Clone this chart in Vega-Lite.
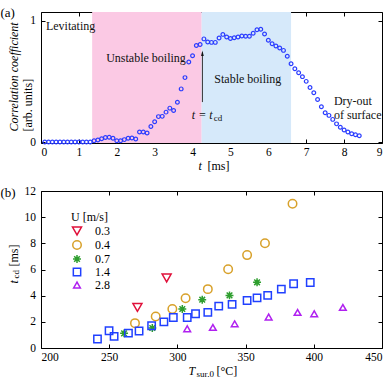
{
  "$schema": "https://vega.github.io/schema/vega-lite/v6.json",
  "padding": {"left": 0, "top": 6, "right": 5, "bottom": 0},
  "spacing": 13,
  "resolve": {"scale": {"color": "independent", "shape": "independent", "size": "independent"}},
  "config": {
    "font": "Liberation Serif",
    "view": {"stroke": null},
    "axis": {"grid": false, "domainColor": "#000", "tickColor": "#000", "labelColor": "#000", "titleColor": "#000", "labelFont": "Liberation Serif", "titleFont": "Liberation Serif", "labelFontSize": 11.5, "titleFontSize": 12, "titleFontWeight": "normal", "tickSize": -4, "zindex": 1, "domainWidth": 1, "tickWidth": 1},
    "axisX": {"labelPadding": 7, "titlePadding": 1},
    "axisY": {"labelPadding": 9.5, "titlePadding": 5},
    "legend": {"titleFont": "Liberation Serif", "labelFont": "Liberation Serif", "titleFontWeight": "normal", "titleFontSize": 12, "labelFontSize": 12, "labelColor": "#000", "titleColor": "#000"}
  },
  "datasets": {
    "regions": [
      {"start": 1.35, "end": 4.24, "regime": "unstable"},
      {"start": 4.24, "end": 6.6, "regime": "stable"}
    ],
    "corr": [
      {"t": 0.1, "c": 0.0}, {"t": 0.2, "c": 0.0}, {"t": 0.3, "c": 0.0}, {"t": 0.4, "c": 0.0}, {"t": 0.5, "c": 0.0},
      {"t": 0.6, "c": 0.0}, {"t": 0.7, "c": 0.0}, {"t": 0.8, "c": 0.0}, {"t": 0.9, "c": 0.0}, {"t": 1.0, "c": 0.0},
      {"t": 1.1, "c": 0.0}, {"t": 1.2, "c": 0.0}, {"t": 1.3, "c": 0.0}, {"t": 1.4, "c": 0.01}, {"t": 1.5, "c": 0.017},
      {"t": 1.6, "c": 0.027}, {"t": 1.7, "c": 0.038}, {"t": 1.8, "c": 0.039}, {"t": 1.9, "c": 0.032}, {"t": 2.0, "c": 0.01},
      {"t": 2.1, "c": 0.01}, {"t": 2.2, "c": 0.02}, {"t": 2.3, "c": 0.032}, {"t": 2.4, "c": 0.033}, {"t": 2.5, "c": 0.025},
      {"t": 2.6, "c": 0.083}, {"t": 2.7, "c": 0.083}, {"t": 2.8, "c": 0.074}, {"t": 2.9, "c": 0.129}, {"t": 3.0, "c": 0.167},
      {"t": 3.1, "c": 0.21}, {"t": 3.2, "c": 0.212}, {"t": 3.3, "c": 0.247}, {"t": 3.4, "c": 0.28}, {"t": 3.5, "c": 0.26},
      {"t": 3.6, "c": 0.328}, {"t": 3.7, "c": 0.439}, {"t": 3.8, "c": 0.532}, {"t": 3.9, "c": 0.661}, {"t": 4.0, "c": 0.713},
      {"t": 4.1, "c": 0.797}, {"t": 4.2, "c": 0.805}, {"t": 4.3, "c": 0.852}, {"t": 4.4, "c": 0.826}, {"t": 4.5, "c": 0.823},
      {"t": 4.6, "c": 0.823}, {"t": 4.7, "c": 0.86}, {"t": 4.8, "c": 0.889}, {"t": 4.9, "c": 0.868}, {"t": 5.0, "c": 0.855},
      {"t": 5.1, "c": 0.862}, {"t": 5.2, "c": 0.868}, {"t": 5.3, "c": 0.876}, {"t": 5.4, "c": 0.873}, {"t": 5.5, "c": 0.873},
      {"t": 5.6, "c": 0.898}, {"t": 5.7, "c": 0.928}, {"t": 5.8, "c": 0.931}, {"t": 5.9, "c": 0.892}, {"t": 6.0, "c": 0.84},
      {"t": 6.1, "c": 0.812}, {"t": 6.2, "c": 0.793}, {"t": 6.3, "c": 0.777}, {"t": 6.4, "c": 0.757}, {"t": 6.5, "c": 0.708},
      {"t": 6.6, "c": 0.647}, {"t": 6.7, "c": 0.606}, {"t": 6.8, "c": 0.573}, {"t": 6.9, "c": 0.54}, {"t": 7.0, "c": 0.501},
      {"t": 7.1, "c": 0.451}, {"t": 7.2, "c": 0.407}, {"t": 7.3, "c": 0.352}, {"t": 7.4, "c": 0.292}, {"t": 7.5, "c": 0.242},
      {"t": 7.6, "c": 0.22}, {"t": 7.7, "c": 0.187}, {"t": 7.8, "c": 0.15}, {"t": 7.9, "c": 0.122}, {"t": 8.0, "c": 0.099},
      {"t": 8.1, "c": 0.083}, {"t": 8.2, "c": 0.069}, {"t": 8.3, "c": 0.06}, {"t": 8.4, "c": 0.052}
    ],
    "labelsA": [
      {"t": 0.13, "c": 0.955, "text": "Levitating"},
      {"t": 1.72, "c": 0.694, "text": "Unstable boiling"},
      {"t": 4.575, "c": 0.523, "text": "Stable boiling"},
      {"t": 7.73, "c": 0.341, "text": "Dry-out"},
      {"t": 7.73, "c": 0.226, "text": "of surface"}
    ],
    "tcdLabel": [
      {"t": 3.98, "c": 0.226, "main": "t = t", "sub": "cd"}
    ],
    "arrow": [
      {"t": 4.26, "c1": 0.33, "c2": 0.74, "tip": 0.734}
    ],
    "tcd": [
      {"U": "0.3", "T": 270.7, "tcd": 3.1}, {"U": "0.3", "T": 292.1, "tcd": 5.35},
      {"U": "0.4", "T": 268.9, "tcd": 1.9}, {"U": "0.4", "T": 284.1, "tcd": 2.41}, {"U": "0.4", "T": 296.3, "tcd": 2.98},
      {"U": "0.4", "T": 306.0, "tcd": 3.8}, {"U": "0.4", "T": 322.3, "tcd": 4.5}, {"U": "0.4", "T": 337.2, "tcd": 6.02},
      {"U": "0.4", "T": 351.1, "tcd": 7.1}, {"U": "0.4", "T": 364.2, "tcd": 8.01}, {"U": "0.4", "T": 384.4, "tcd": 11.03},
      {"U": "0.7", "T": 260.9, "tcd": 1.12}, {"U": "0.7", "T": 281.6, "tcd": 1.53}, {"U": "0.7", "T": 303.6, "tcd": 2.98},
      {"U": "0.7", "T": 318.2, "tcd": 3.69}, {"U": "0.7", "T": 338.2, "tcd": 4.02}, {"U": "0.7", "T": 358.4, "tcd": 5.02},
      {"U": "1.4", "T": 241.4, "tcd": 0.69}, {"U": "1.4", "T": 249.9, "tcd": 1.32}, {"U": "1.4", "T": 253.6, "tcd": 0.89},
      {"U": "1.4", "T": 264.1, "tcd": 1.14}, {"U": "1.4", "T": 271.9, "tcd": 1.3}, {"U": "1.4", "T": 281.1, "tcd": 1.7},
      {"U": "1.4", "T": 290.1, "tcd": 2.0}, {"U": "1.4", "T": 297.0, "tcd": 2.33}, {"U": "1.4", "T": 307.2, "tcd": 2.33},
      {"U": "1.4", "T": 313.3, "tcd": 2.62}, {"U": "1.4", "T": 322.3, "tcd": 2.72}, {"U": "1.4", "T": 330.3, "tcd": 3.2},
      {"U": "1.4", "T": 340.1, "tcd": 3.33}, {"U": "1.4", "T": 351.1, "tcd": 3.63}, {"U": "1.4", "T": 358.4, "tcd": 3.83},
      {"U": "1.4", "T": 366.2, "tcd": 4.02}, {"U": "1.4", "T": 376.2, "tcd": 4.5}, {"U": "1.4", "T": 385.2, "tcd": 4.91},
      {"U": "1.4", "T": 397.4, "tcd": 5.01},
      {"U": "2.8", "T": 307.2, "tcd": 1.47}, {"U": "2.8", "T": 326.0, "tcd": 1.57}, {"U": "2.8", "T": 342.0, "tcd": 1.85},
      {"U": "2.8", "T": 366.9, "tcd": 2.37}, {"U": "2.8", "T": 388.1, "tcd": 2.72}, {"U": "2.8", "T": 400.3, "tcd": 2.62},
      {"U": "2.8", "T": 421.3, "tcd": 3.1}
    ]
  },
  "vconcat": [
    {
      "width": 341,
      "height": 131,
      "resolve": {"axis": {"x": "independent", "y": "independent"}},
      "layer": [
        {
          "data": {"name": "regions"},
          "mark": {"type": "rect"},
          "encoding": {
            "x": {"field": "start", "type": "quantitative", "scale": {"domain": [0, 9], "nice": false, "zero": false},
                  "axis": {"orient": "bottom", "values": [0, 1, 2, 3, 4, 5, 6, 7, 8, 9], "title": "t", "titleFontStyle": "italic", "titleX": 157, "titleY": 22.5, "titleAlign": "left", "titleBaseline": "middle"}},
            "x2": {"field": "end"},
            "color": {"field": "regime", "type": "nominal", "scale": {"domain": ["unstable", "stable"], "range": ["#fbc9e4", "#d6e9fa"]}, "legend": null}
          }
        },
        {
          "data": {"name": "corr"},
          "mark": {"type": "point", "shape": "circle", "filled": false, "size": 14, "strokeWidth": 1.2, "color": "#2a3cff", "opacity": 1},
          "encoding": {
            "x": {"field": "t", "type": "quantitative", "scale": {"domain": [0, 9], "nice": false, "zero": false},
                  "axis": {"orient": "top", "values": [0, 1, 2, 3, 4, 5, 6, 7, 8, 9], "labels": false, "title": null}},
            "y": {"field": "c", "type": "quantitative", "scale": {"domain": [-0.008, 1.074], "nice": false, "zero": false},
                  "axis": {"orient": "left", "values": [0, 1], "format": "d", "title": "[arb. units]", "titleX": -14, "titleY": 119, "titleAlign": "left", "titleBaseline": "middle", "titleAngle": 270}}
          }
        },
        {
          "data": {"name": "arrow"},
          "mark": {"type": "rule", "color": "#333", "strokeWidth": 1},
          "encoding": {
            "x": {"field": "t", "type": "quantitative", "scale": {"domain": [0, 9], "nice": false, "zero": false}, "axis": null},
            "y": {"field": "c1", "type": "quantitative", "scale": {"domain": [-0.008, 1.074], "nice": false, "zero": false},
                  "axis": {"orient": "left", "labels": false, "ticks": false, "domain": false, "title": "(a)", "titleFontSize": 13, "titleX": -41, "titleY": 0, "titleAlign": "left", "titleBaseline": "middle", "titleAngle": 0}},
            "y2": {"field": "c2"}
          }
        },
        {
          "data": {"name": "arrow"},
          "mark": {"type": "point", "shape": "M0,-1L0.5,1L-0.5,1Z", "filled": true, "size": 30, "color": "#111", "opacity": 1},
          "encoding": {
            "x": {"field": "t", "type": "quantitative", "scale": {"domain": [0, 9], "nice": false, "zero": false}, "axis": null},
            "y": {"field": "tip", "type": "quantitative", "scale": {"domain": [-0.008, 1.074], "nice": false, "zero": false},
                  "axis": {"orient": "right", "values": [0, 1], "labels": false, "title": null}}
          }
        },
        {
          "data": {"name": "labelsA"},
          "mark": {"type": "text", "align": "left", "baseline": "middle", "fontSize": 12, "font": "Liberation Serif", "color": "#111"},
          "encoding": {
            "x": {"field": "t", "type": "quantitative", "scale": {"domain": [0, 9], "nice": false, "zero": false}, "axis": null},
            "y": {"field": "c", "type": "quantitative", "scale": {"domain": [-0.008, 1.074], "nice": false, "zero": false},
                  "axis": {"orient": "left", "labels": false, "ticks": false, "domain": false, "title": "Correlation coefficient", "titleFontStyle": "italic", "titleX": -28, "titleY": 119, "titleAlign": "left", "titleBaseline": "middle", "titleAngle": 270}},
            "text": {"field": "text"}
          }
        },
        {
          "data": {"name": "tcdLabel"},
          "mark": {"type": "text", "align": "left", "baseline": "middle", "fontSize": 12, "font": "Liberation Serif", "fontStyle": "italic", "color": "#111"},
          "encoding": {
            "x": {"field": "t", "type": "quantitative", "scale": {"domain": [0, 9], "nice": false, "zero": false},
                  "axis": {"orient": "bottom", "labels": false, "ticks": false, "domain": false, "title": "[ms]", "titleX": 166, "titleY": 22.5, "titleAlign": "left", "titleBaseline": "middle"}},
            "y": {"field": "c", "type": "quantitative", "scale": {"domain": [-0.008, 1.074], "nice": false, "zero": false}, "axis": null},
            "text": {"field": "main"}
          }
        },
        {
          "data": {"name": "tcdLabel"},
          "mark": {"type": "text", "align": "left", "baseline": "middle", "fontSize": 9, "font": "Liberation Serif", "color": "#111", "dx": 22, "dy": 3},
          "encoding": {
            "x": {"field": "t", "type": "quantitative", "scale": {"domain": [0, 9], "nice": false, "zero": false}, "axis": null},
            "y": {"field": "c", "type": "quantitative", "scale": {"domain": [-0.008, 1.074], "nice": false, "zero": false}, "axis": null},
            "text": {"field": "sub"}
          }
        }
      ]
    },
    {
      "width": 341,
      "height": 157,
      "data": {"name": "tcd"},
      "resolve": {"axis": {"x": "independent", "y": "independent"}},
      "layer": [
        {
          "mark": {"type": "point", "opacity": 0},
          "encoding": {
            "x": {"field": "T", "type": "quantitative", "scale": {"domain": [200, 450], "nice": false, "zero": false},
                  "axis": {"orient": "top", "values": [200, 250, 300, 350, 400, 450], "labels": false, "title": null}},
            "y": {"field": "tcd", "type": "quantitative", "scale": {"domain": [0, 12], "nice": false, "zero": false},
                  "axis": {"orient": "right", "values": [0, 2, 4, 6, 8, 10, 12], "labels": false, "title": null}}
          }
        },
        {
          "mark": {"type": "point", "opacity": 0},
          "encoding": {
            "x": {"field": "T", "type": "quantitative", "scale": {"domain": [200, 450], "nice": false, "zero": false},
                  "axis": {"orient": "bottom", "labels": false, "ticks": false, "domain": false, "title": "sur,0", "titleFontSize": 9, "titleX": 155, "titleY": 25, "titleAlign": "left", "titleBaseline": "middle"}},
            "y": {"field": "tcd", "type": "quantitative", "scale": {"domain": [0, 12], "nice": false, "zero": false},
                  "axis": {"orient": "left", "labels": false, "ticks": false, "domain": false, "title": "(b)", "titleFontSize": 13, "titleX": -41, "titleY": 1, "titleAlign": "left", "titleBaseline": "middle", "titleAngle": 0}}
          }
        },
        {
          "mark": {"type": "point", "opacity": 0},
          "encoding": {
            "x": {"field": "T", "type": "quantitative", "scale": {"domain": [200, 450], "nice": false, "zero": false},
                  "axis": {"orient": "bottom", "labels": false, "ticks": false, "domain": false, "title": "[°C]", "titleX": 175, "titleY": 22, "titleAlign": "left", "titleBaseline": "middle"}},
            "y": {"field": "tcd", "type": "quantitative", "scale": {"domain": [0, 12], "nice": false, "zero": false},
                  "axis": {"orient": "left", "labels": false, "ticks": false, "domain": false, "title": "cd", "titleFontSize": 9, "titleX": -25.5, "titleY": 87, "titleAlign": "left", "titleBaseline": "middle", "titleAngle": 270}}
          }
        },
        {
          "mark": {"type": "point", "opacity": 0},
          "encoding": {
            "x": {"field": "T", "type": "quantitative", "scale": {"domain": [200, 450], "nice": false, "zero": false}, "axis": null},
            "y": {"field": "tcd", "type": "quantitative", "scale": {"domain": [0, 12], "nice": false, "zero": false},
                  "axis": {"orient": "left", "labels": false, "ticks": false, "domain": false, "title": "[ms]", "titleX": -28, "titleY": 75, "titleAlign": "left", "titleBaseline": "middle", "titleAngle": 270}}
          }
        },
        {
          "mark": {"type": "point", "filled": false, "strokeWidth": 1.5, "opacity": 1},
          "encoding": {
            "x": {"field": "T", "type": "quantitative", "scale": {"domain": [200, 450], "nice": false, "zero": false},
                  "axis": {"orient": "bottom", "values": [200, 250, 300, 350, 400, 450], "title": "T", "titleFontStyle": "italic", "titleX": 147, "titleY": 22, "titleAlign": "left", "titleBaseline": "middle"}},
            "y": {"field": "tcd", "type": "quantitative", "scale": {"domain": [0, 12], "nice": false, "zero": false},
                  "axis": {"orient": "left", "values": [0, 2, 4, 6, 8, 10, 12], "title": "t", "titleFontStyle": "italic", "titleX": -28, "titleY": 92, "titleAlign": "left", "titleBaseline": "middle", "titleAngle": 270}},
            "color": {"field": "U", "type": "nominal",
                      "scale": {"domain": ["0.3", "0.4", "0.7", "1.4", "2.8"], "range": ["#e0103a", "#d8a12a", "#2e9e2e", "#2040ff", "#b020f0"]},
                      "legend": {"orient": "none", "legendX": 30, "legendY": 21, "title": "U [m/s]", "padding": 0, "rowPadding": -1, "titlePadding": 1, "labelOffset": 12, "symbolStrokeWidth": 1.5, "symbolSize": 64}},
            "shape": {"field": "U", "type": "nominal",
                      "scale": {"domain": ["0.3", "0.4", "0.7", "1.4", "2.8"], "range": ["triangle-down", "circle", "M-1,0L1,0M0,-1L0,1M-0.71,-0.71L0.71,0.71M-0.71,0.71L0.71,-0.71", "square", "triangle-up"]}},
            "size": {"field": "U", "type": "ordinal",
                     "scale": {"domain": ["0.3", "0.4", "0.7", "1.4", "2.8"], "range": [81, 45, 60, 80, 81]}, "legend": null}
          }
        }
      ]
    }
  ]
}
